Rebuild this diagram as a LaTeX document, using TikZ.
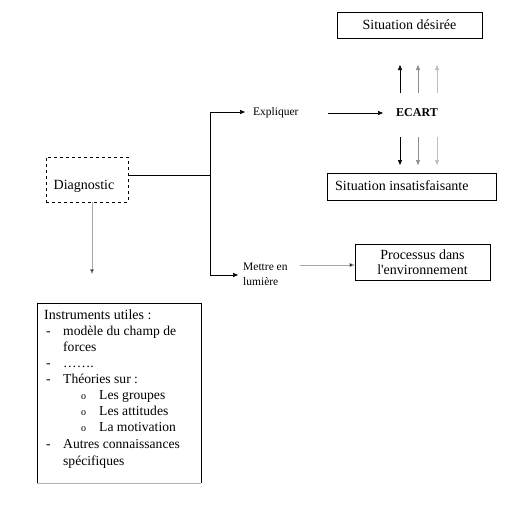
\documentclass[tikz,border=0pt]{standalone}
\usepackage{fontspec}
\setmainfont{Liberation Serif}
\usetikzlibrary{arrows.meta}
\begin{document}
\begin{tikzpicture}[x=1pt,y=-1pt,
  box/.style={draw,line width=0.8pt,inner sep=0pt},
  dbox/.style={draw,dashed,line width=0.8pt,inner sep=0pt},
  arr/.style={-{Triangle[length=5pt,width=4pt]},line width=0.6pt},
  garr/.style={arr,draw=gray!70,-{Triangle[length=5pt,width=4pt,fill=black]}},
  big/.style={font=\fontsize{14}{15}\selectfont},
  small/.style={font=\fontsize{11.5}{15}\selectfont,inner sep=0pt,align=left},
  ltext/.style={font=\fontsize{14}{15}\selectfont,inner sep=0pt,anchor=west},
  lst/.style={font=\fontsize{13.6}{15}\selectfont,inner sep=0pt,anchor=west,text height=9.5pt,text depth=3pt},
  bul/.style={font=\fontsize{10}{10}\selectfont,inner sep=0pt,anchor=west}
]
\useasboundingbox[fill=white] (0,0) rectangle (514,512);

% top boxes
\node[box,minimum width=145pt,minimum height=26pt,big] (des) at (409.5,25) {Situation désirée};
\node[box,minimum width=169pt,minimum height=27pt] (ins) at (411.5,186.5) {};
\node[ltext] (inst) at (335,186) {Situation insatisfaisante};
\node[font=\bfseries\fontsize{12}{13}\selectfont,inner sep=0pt] (ecart) at (417,113) {ECART};

% up / down arrows
\coordinate (u1a) at (400,93); \coordinate (u1b) at (400,65);
\coordinate (u2a) at (418,93); \coordinate (u2b) at (418,65);
\coordinate (u3a) at (437,93); \coordinate (u3b) at (437,65);
\draw[arr] (u1a) -- (u1b);
\draw[arr,draw=gray!90] (u2a) -- (u2b);
\draw[arr,draw=gray!50] (u3a) -- (u3b);
\coordinate (d1a) at (400,137); \coordinate (d1b) at (400,165);
\coordinate (d2a) at (418,137); \coordinate (d2b) at (418,165);
\coordinate (d3a) at (437,137); \coordinate (d3b) at (437,165);
\draw[arr] (d1a) -- (d1b);
\draw[arr,draw=gray!90] (d2a) -- (d2b);
\draw[arr,draw=gray!50] (d3a) -- (d3b);

% diagnostic
\node[dbox,minimum width=82pt,minimum height=45pt] (diag) at (87,179.5) {};
\node[big,inner sep=0pt] (diagt) at (84,186) {Diagnostic};

\coordinate (j1) at (210,175);
\coordinate (jt) at (210,112);
\coordinate (jb) at (210,275);
\draw[line width=0.8pt] (diag.east |- j1) -- (j1);
\draw[line width=0.8pt] (jt) -- (jb);

\node[small,anchor=west] (expl) at (253,113) {Expliquer};
\coordinate (ea) at (245,112);
\draw[arr] (jt) -- (ea);
\coordinate (ex1) at (328,113);
\coordinate (ex2) at (383,113);
\draw[arr] (ex1) -- (ex2);

\node[small,anchor=west] (mettre) at (243,274.5) {Mettre en\\lumière};
\coordinate (ma) at (238,275);
\draw[arr] (jb) -- (ma);

\node[box,minimum width=135pt,minimum height=36pt,align=center,font=\fontsize{14}{15}\selectfont] (proc) at (422.5,262) {Processus dans\\l\textquotesingle environnement};
\coordinate (pm) at (300,265);
\draw[garr] (pm) -- (proc.west |- pm);

% instruments box
\draw[line width=0.8pt] (37,483) -- (37,303) -- (201,303) -- (201,483);
\draw[line width=0.8pt,gray!60] (37,483) -- (201,483);
\coordinate (dg) at (92,274);
\draw[garr] (diag.south -| dg) -- (dg);

\node[ltext] (l1) at (44,315) {Instruments utiles :};
\node[lst] (b1) at (46,332) {-};
\node[lst] (l2) at (63,332) {modèle du champ de};
\node[lst] (l3) at (63,348) {forces};
\node[lst] (b2) at (46,364) {-};
\node[lst] (l4) at (63,364) {…….};
\node[lst] (b3) at (46,380) {-};
\node[lst] (l5) at (63,380) {Théories sur :};
\node[bul] (c1) at (81,397.5) {o};
\node[lst] (l6) at (99,396) {Les groupes};
\node[bul] (c2) at (81,413.5) {o};
\node[lst] (l7) at (99,412) {Les attitudes};
\node[bul] (c3) at (81,429.5) {o};
\node[lst] (l8) at (99,428) {La motivation};
\node[lst] (b4) at (46,445) {-};
\node[lst] (l9) at (63,445) {Autres connaissances};
\node[lst] (l10) at (63,462) {spécifiques};
\end{tikzpicture}
\end{document}
